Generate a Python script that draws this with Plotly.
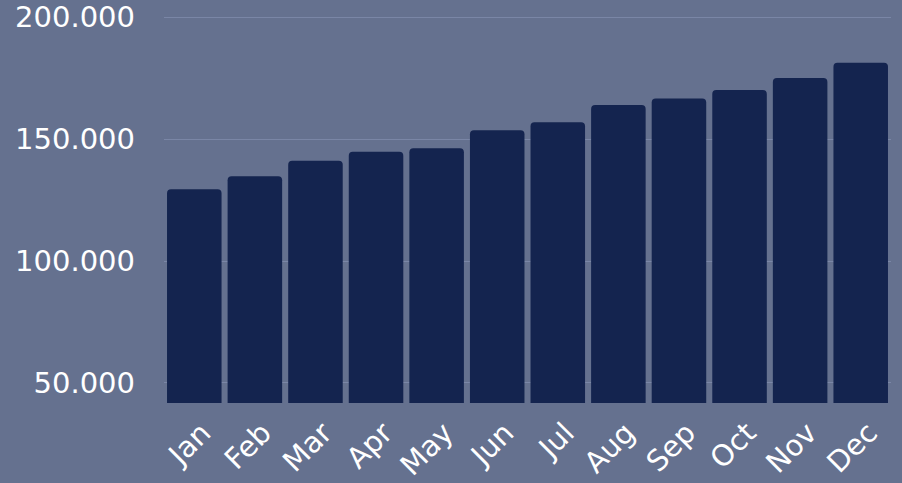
import plotly.graph_objects as go

months = ["Jan", "Feb", "Mar", "Apr", "May", "Jun", "Jul", "Aug", "Sep", "Oct", "Nov", "Dec"]
values = [129500, 134800, 141200, 144900, 146300, 153700, 157000, 164000, 166700, 170200, 175100, 181400]
y_ticks = [50000, 100000, 150000, 200000]

BG = "#65718f"
BAR = "#14244f"
GRID = "#7a86a6"

fig = go.Figure(
    go.Bar(x=months, y=values, marker=dict(color=BAR, line=dict(width=0)))
)

fig.update_layout(
    width=902,
    height=483,
    paper_bgcolor=BG,
    plot_bgcolor=BG,
    margin=dict(l=164, r=11, t=10, b=80, pad=0),
    bargap=0.1,
    barcornerradius=4,
    separators=",.",
    showlegend=False,
    font=dict(family="DejaVu Sans", color="#ffffff"),
)

fig.update_xaxes(
    tickangle=-45,
    tickfont=dict(size=29, color="#ffffff"),
    showgrid=False,
    showline=False,
    ticks="",
    ticklabelstandoff=6,
    ticklabelshift=8,
    automargin=False,
)

fig.update_yaxes(
    range=[41790, 203000],
    tickvals=y_ticks,
    tickformat=",d",
    tickfont=dict(size=29, color="#ffffff"),
    gridcolor=GRID,
    gridwidth=1,
    zeroline=False,
    showline=False,
    ticks="",
    ticklabelstandoff=28,
    automargin=False,
)

fig.write_html(
    "out.html",
    config={"displayModeBar": False},
    post_script="document.body.style.margin='0';document.body.style.overflow='hidden';",
)
